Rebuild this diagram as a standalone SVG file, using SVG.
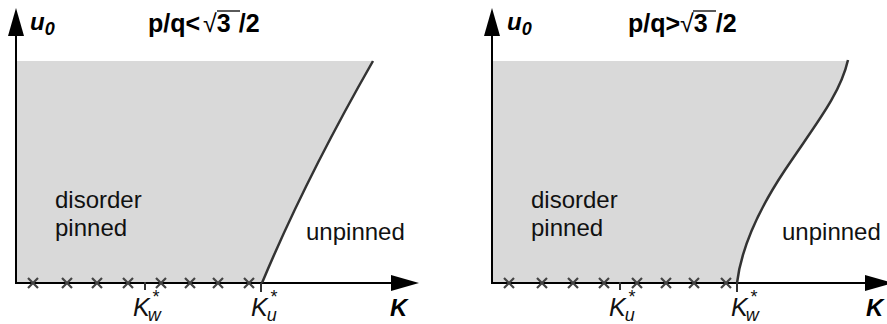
<svg xmlns="http://www.w3.org/2000/svg" width="887" height="324" viewBox="0 0 887 324">
<style>
.fill{fill:#d9d9d9;stroke:none}
.axis{stroke:#000;stroke-width:2;fill:none}
.curve{stroke:#333;stroke-width:2.5;fill:none}
.x{stroke:#444;stroke-width:2.2;fill:none}
.tick{stroke:#333;stroke-width:2;fill:none}
.lbl{font-family:"Liberation Sans",Arial,sans-serif;font-size:24px;fill:#111}
.ttl{font-family:"Liberation Sans",Arial,sans-serif;font-size:25px;font-weight:bold;fill:#000}
.ax{font-family:"Liberation Sans",Arial,sans-serif;font-size:24px;font-weight:bold;font-style:italic;fill:#000}
.k{font-family:"Liberation Sans",Arial,sans-serif;font-size:25px;font-style:italic;fill:#111}
.sub{font-size:18px}
.ah{fill:#000}
</style>
<defs>
<path id="cross" d="M-5,-5L5,5M-5,5L5,-5" class="x"/>
</defs>

<g id="left-panel">
  <path class="fill" d="M17,61 L373,61 Q305,180 262,283 L17,283 Z"/>
  <g id="left-connectors">
    <line class="axis" x1="16" y1="284" x2="16" y2="30"/>
    <polygon class="ah" points="16,8 8,36 24,36"/>
    <line class="axis" x1="15" y1="283" x2="395" y2="283"/>
    <polygon class="ah" points="419,283 391,275 391,291"/>
    <path class="curve" d="M262,283 Q305,180 373,61"/>
    <line class="tick" x1="145" y1="282" x2="145" y2="290"/>
    <line class="tick" x1="261" y1="283" x2="261" y2="292"/>
  </g>
  <g id="left-crosses">
    <use href="#cross" x="33" y="283"/>
    <use href="#cross" x="67" y="283"/>
    <use href="#cross" x="97" y="283"/>
    <use href="#cross" x="128" y="283"/>
    <use href="#cross" x="161" y="283"/>
    <use href="#cross" x="190" y="283"/>
    <use href="#cross" x="218" y="283"/>
    <use href="#cross" x="249" y="283"/>
  </g>
  <text class="ax" x="30" y="30">u<tspan class="sub" dy="5">0</tspan></text>
  <text class="ttl" x="148" y="32">p/q&lt;<tspan font-weight="normal" dx="3">√</tspan>3<tspan dx="8">/2</tspan></text>
  <line x1="217" y1="11" x2="240" y2="11" stroke="#000" stroke-width="1.3"/>
  <text class="lbl" x="55" y="208">disorder</text>
  <text class="lbl" x="55" y="236">pinned</text>
  <text class="lbl" x="306" y="240">unpinned</text>
  <text class="k" x="133" y="316">K<tspan class="sub" dy="-13" dx="2">*</tspan><tspan class="sub" dx="-11" dy="18">w</tspan></text>
  <text class="k" x="251" y="316">K<tspan class="sub" dy="-13" dx="2">*</tspan><tspan class="sub" dx="-10" dy="18">u</tspan></text>
  <text class="ax" x="390" y="316">K</text>
</g>

<g id="right-panel">
  <path class="fill" d="M493,61 L848,61 C840,95 815,125 785,170 C757,212 741,250 737,283 L493,283 Z"/>
  <g id="right-connectors">
    <line class="axis" x1="492" y1="284" x2="492" y2="30"/>
    <polygon class="ah" points="492,8 484,36 500,36"/>
    <line class="axis" x1="491" y1="283" x2="870" y2="283"/>
    <polygon class="ah" points="893,283 865,275 865,291"/>
    <path class="curve" d="M737,283 C741,250 757,212 785,170 C815,125 840,95 848,60"/>
    <line class="tick" x1="620" y1="282" x2="620" y2="290"/>
    <line class="tick" x1="737" y1="283" x2="737" y2="292"/>
  </g>
  <g id="right-crosses">
    <use href="#cross" x="509" y="283"/>
    <use href="#cross" x="542" y="283"/>
    <use href="#cross" x="573" y="283"/>
    <use href="#cross" x="604" y="283"/>
    <use href="#cross" x="637" y="283"/>
    <use href="#cross" x="666" y="283"/>
    <use href="#cross" x="694" y="283"/>
    <use href="#cross" x="726" y="283"/>
  </g>
  <text class="ax" x="507" y="30">u<tspan class="sub" dy="5">0</tspan></text>
  <text class="ttl" x="628" y="32">p/q&gt;<tspan font-weight="normal">√</tspan>3<tspan dx="8">/2</tspan></text>
  <line x1="693" y1="11" x2="716" y2="11" stroke="#000" stroke-width="1.3"/>
  <text class="lbl" x="531" y="208">disorder</text>
  <text class="lbl" x="531" y="236">pinned</text>
  <text class="lbl" x="782" y="240">unpinned</text>
  <text class="k" x="609" y="316">K<tspan class="sub" dy="-13" dx="2">*</tspan><tspan class="sub" dx="-10" dy="18">u</tspan></text>
  <text class="k" x="731" y="316">K<tspan class="sub" dy="-13" dx="2">*</tspan><tspan class="sub" dx="-11" dy="18">w</tspan></text>
  <text class="ax" x="866" y="316">K</text>
</g>
</svg>
